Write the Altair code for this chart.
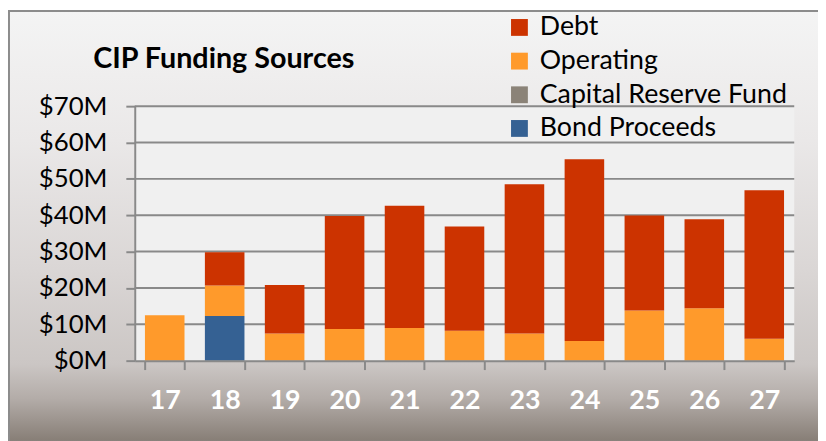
import altair as alt
import pandas as pd

# ---- data ----
years = ["17", "18", "19", "20", "21", "22", "23", "24", "25", "26", "27"]
bond_proceeds = [0, 12.3, 0, 0, 0, 0, 0, 0, 0, 0, 0]
capital_reserve = [0, 0, 0, 0, 0, 0, 0, 0, 0, 0, 0]
operating = [12.5, 8.4, 7.5, 8.7, 9.0, 8.2, 7.5, 5.4, 13.8, 14.4, 6.0]
debt = [0, 9.1, 13.3, 31.1, 33.6, 28.7, 41.0, 50.0, 26.1, 24.5, 40.9]

series_names = ["Debt", "Operating", "Capital Reserve Fund", "Bond Proceeds"]
series_colors = ["#CC3300", "#FF9A2B", "#8B8378", "#356193"]
tick_values = [0, 10, 20, 30, 40, 50, 60, 70]
title_text = "CIP Funding Sources"

rows = []
for name, vals, order in [
    ("Bond Proceeds", bond_proceeds, 0),
    ("Capital Reserve Fund", capital_reserve, 1),
    ("Operating", operating, 2),
    ("Debt", debt, 3),
]:
    for yr, v in zip(years, vals):
        rows.append({"year": yr, "series": name, "value": v, "ord": order})
df = pd.DataFrame(rows)

W, H = 666, 257
GRID = "#898989"
FONT = "Lato"
yscale = alt.Scale(domain=[0, 70], nice=False, zero=True)

y_axis = alt.Axis(
    title=None, values=tick_values, labelExpr="'$' + datum.value + 'M'",
    tickSize=9, tickColor=GRID, tickWidth=2, domainColor=GRID, domainWidth=2,
    labelFont=FONT, labelFontSize=26, labelColor="black", labelPadding=19,
    grid=False, zindex=1,
)

gradient = {
    "gradient": "linear", "x1": 0, "y1": 0, "x2": 0, "y2": 1,
    "stops": [
        {"offset": 0.0, "color": "#F4F4F4"},
        {"offset": 0.30, "color": "#EAE8E8"},
        {"offset": 0.60, "color": "#DAD6D5"},
        {"offset": 0.82, "color": "#CBC6C4"},
        {"offset": 0.90, "color": "#B3ACA8"},
        {"offset": 1.0, "color": "#867D75"},
    ],
}

one = pd.DataFrame({"k": [0]})

bg = alt.Chart(one).mark_rect(fill=gradient, stroke="#8C8C8C", strokeWidth=2).encode(
    x=alt.value(-127), x2=alt.value(W + 60), y=alt.value(-96), y2=alt.value(H + 82)
)

plot_bg = alt.Chart(one).mark_rect(fill="#F0F0F0").encode(
    x=alt.value(0), x2=alt.value(W), y=alt.value(0), y2=alt.value(H)
)

grid = alt.Chart(pd.DataFrame({"value": tick_values[1:]})).mark_rule(
    color=GRID, strokeWidth=2
).encode(y=alt.Y("value:Q", scale=yscale, axis=y_axis))

bars = alt.Chart(df).mark_bar().encode(
    x=alt.X(
        "year:N", sort=years,
        scale=alt.Scale(paddingInner=0.34, paddingOuter=0.17),
        axis=alt.Axis(
            title=None, tickBand="extent", tickSize=9, tickColor=GRID, tickWidth=2,
            domainColor=GRID, domainWidth=2, labelFont=FONT, labelFontSize=27,
            labelFontWeight="bold", labelColor="white", labelPadding=18,
            labelAngle=0, grid=False, zindex=1,
        ),
    ),
    y=alt.Y("value:Q", stack="zero", scale=yscale, axis=y_axis),
    color=alt.Color(
        "series:N",
        scale=alt.Scale(domain=series_names, range=series_colors),
        legend=alt.Legend(
            title=None, orient="none", legendX=375, legendY=-93,
            symbolType="square", symbolSize=289, symbolStrokeWidth=0,
            labelFont=FONT, labelFontSize=27, labelColor="black",
            rowPadding=6, labelOffset=7, padding=0, labelLimit=400,
        ),
    ),
    order=alt.Order("ord:Q", sort="ascending"),
)

title = alt.Chart(pd.DataFrame({"t": [title_text]})).mark_text(
    font=FONT, fontSize=29, fontWeight="bold", align="center", baseline="middle",
    color="black",
).encode(text="t:N", x=alt.value(90), y=alt.value(-48))

chart = alt.layer(bg, plot_bg, grid, bars, title).properties(
    width=W, height=H,
    padding={"left": 128, "top": 97, "right": 24, "bottom": 79},
    autosize=alt.AutoSizeParams(type="none"),
    background="white",
).configure_view(strokeWidth=0)

chart.save("out.html", embed_options={"renderer": "svg", "actions": False})
